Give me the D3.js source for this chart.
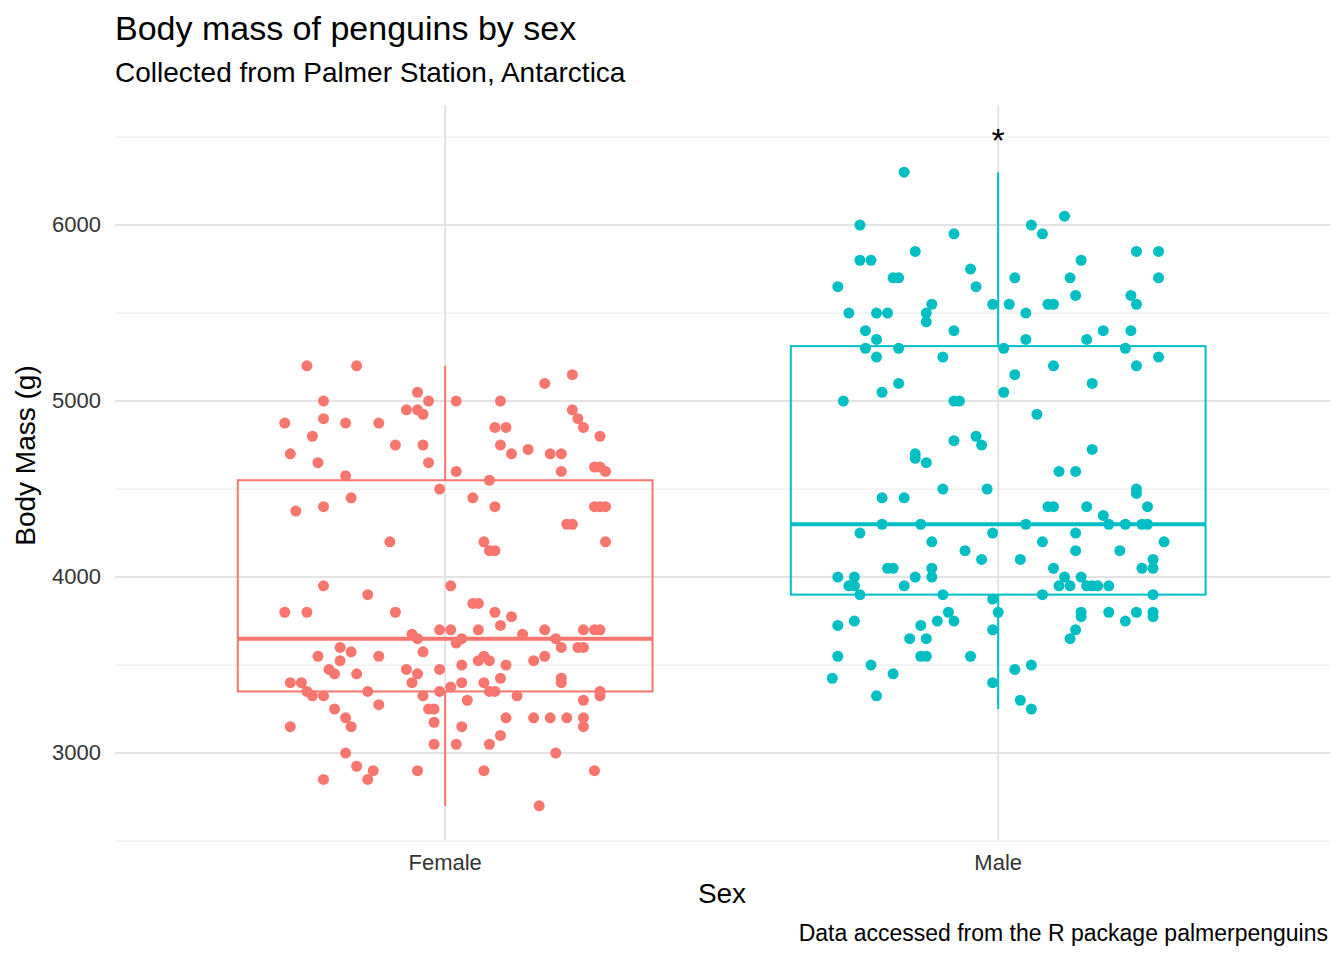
<!DOCTYPE html>
<html><head><meta charset="utf-8">
<script src="https://cdn.jsdelivr.net/npm/d3@7"></script>
<style>body{margin:0;background:#fff;font-family:"Liberation Sans",Arial,sans-serif}</style>
</head><body>
<svg id="chart" width="1344" height="960"></svg>
<script>
var sexes = ["Female", "Male"];
var colors = ["#F8766D", "#00BFC4"];
var yTicks = [3000, 4000, 5000, 6000];
var yMinor = [2500, 3500, 4500, 5500, 6500];
// box stats: [lowWhisker, q1, median, q3, highWhisker]
var boxStats = [[2700, 3350, 3650, 4550, 5200], [3250, 3900, 4300, 5312, 6300]];
// points: [jitter offset, body mass]
var femalePts = [[-0.25,5200],[-0.16,5200],[0.23,5150],[0.18,5100],[-0.29,4875],[-0.22,5000],[-0.12,4875],[-0.05,5050],[-0.03,5000],[-0.05,4950],[0.02,5000],[0.10,5000],[-0.24,4800],[-0.22,4900],[-0.18,4875],[-0.07,4950],[-0.04,4925],[-0.28,4700],[-0.23,4650],[-0.09,4750],[-0.04,4750],[0.10,4750],[0.09,4850],[0.11,4850],[0.12,4700],[0.15,4725],[0.19,4700],[0.21,4700],[0.23,4950],[0.24,4900],[0.25,4850],[0.28,4800],[0.27,4625],[0.28,4625],[0.29,4600],[0.21,4600],[-0.18,4575],[-0.03,4650],[0.02,4600],[-0.27,4375],[-0.22,4400],[-0.17,4450],[0.08,4550],[0.09,4400],[0.05,4450],[-0.01,4500],[0.07,4200],[0.08,4150],[0.09,4150],[-0.10,4200],[0.22,4300],[0.23,4300],[0.27,4400],[0.28,4400],[0.29,4400],[0.29,4200],[-0.22,3950],[-0.29,3800],[-0.25,3800],[-0.14,3900],[-0.09,3800],[-0.06,3675],[-0.05,3650],[-0.04,3575],[-0.01,3700],[0.01,3950],[0.01,3700],[0.03,3650],[0.02,3625],[0.05,3850],[0.06,3850],[0.06,3700],[0.09,3800],[0.10,3725],[0.12,3775],[0.14,3675],[0.18,3700],[0.20,3650],[0.21,3600],[0.24,3600],[0.25,3700],[0.27,3700],[0.28,3700],[0.25,3600],[0.16,3525],[0.11,3500],[0.06,3525],[0.07,3550],[0.08,3525],[0.03,3500],[-0.01,3475],[-0.05,3450],[-0.07,3475],[-0.12,3550],[-0.17,3575],[-0.19,3600],[-0.19,3525],[-0.21,3475],[-0.23,3550],[-0.26,3400],[-0.28,3400],[-0.25,3350],[-0.24,3325],[-0.22,3325],[-0.20,3450],[-0.16,3450],[-0.14,3350],[-0.06,3400],[-0.04,3325],[-0.01,3350],[0.01,3375],[-0.02,3250],[0.03,3400],[0.07,3400],[0.08,3350],[0.10,3425],[0.13,3325],[0.04,3300],[0.09,3350],[0.18,3550],[0.21,3425],[0.21,3400],[0.25,3300],[0.28,3350],[0.28,3325],[-0.20,3250],[-0.12,3275],[-0.03,3250],[-0.18,3200],[-0.02,3175],[0.03,3150],[0.11,3200],[0.16,3200],[0.19,3200],[0.22,3200],[0.25,3200],[0.25,3150],[-0.28,3150],[-0.17,3150],[0.10,3100],[0.08,3050],[0.02,3050],[-0.02,3050],[0.20,3000],[-0.18,3000],[-0.16,2925],[-0.13,2900],[-0.14,2850],[-0.22,2850],[-0.05,2900],[0.07,2900],[0.27,2900],[0.17,2700]];
var malePts = [[-0.17,6300],[-0.25,6000],[0.06,6000],[0.12,6050],[0.08,5950],[-0.08,5950],[-0.25,5800],[-0.23,5800],[-0.15,5850],[-0.19,5700],[-0.18,5700],[-0.05,5750],[-0.04,5650],[0.03,5700],[0.15,5800],[0.13,5700],[0.25,5850],[0.29,5850],[0.29,5700],[-0.29,5650],[-0.27,5500],[-0.22,5500],[-0.20,5500],[-0.13,5500],[-0.13,5450],[-0.12,5550],[-0.01,5550],[0.02,5550],[0.05,5500],[0.09,5550],[0.10,5550],[0.14,5600],[0.24,5600],[0.25,5550],[-0.24,5400],[-0.22,5350],[-0.24,5300],[-0.18,5300],[-0.08,5400],[0.01,5300],[0.05,5350],[0.16,5350],[0.19,5400],[0.24,5400],[0.23,5300],[-0.28,5000],[-0.21,5050],[-0.18,5100],[-0.22,5250],[-0.10,5250],[-0.07,5000],[-0.08,5000],[0.03,5150],[0.01,5050],[0.10,5200],[0.17,5100],[0.25,5200],[0.29,5250],[0.07,4925],[-0.15,4700],[-0.15,4675],[-0.13,4650],[-0.08,4775],[-0.03,4750],[-0.04,4800],[-0.02,4500],[0.11,4600],[0.14,4600],[0.17,4725],[0.25,4475],[0.27,4400],[0.25,4500],[-0.21,4450],[-0.17,4450],[-0.10,4500],[-0.25,4250],[-0.21,4300],[-0.14,4300],[-0.12,4200],[-0.06,4150],[-0.01,4250],[0.05,4300],[0.09,4400],[0.10,4400],[0.16,4400],[0.14,4250],[0.19,4350],[0.20,4300],[0.23,4300],[0.26,4300],[0.27,4300],[0.30,4200],[0.28,4050],[0.28,4100],[0.14,4150],[0.08,4200],[-0.29,4000],[-0.26,4000],[-0.26,3950],[-0.27,3950],[-0.25,3900],[-0.20,4050],[-0.19,4050],[-0.15,4000],[-0.17,3950],[-0.12,4000],[-0.12,4050],[-0.03,4100],[0.04,4100],[0.10,4050],[0.12,4000],[0.13,3950],[0.15,4000],[0.16,3950],[0.17,3950],[0.18,3950],[0.20,3950],[0.22,4150],[0.26,4050],[0.28,3900],[0.28,3800],[0.28,3775],[0.25,3800],[0.23,3750],[0.20,3800],[0.15,3800],[0.15,3775],[0.13,3650],[0.14,3700],[0.11,3950],[0.08,3900],[-0.01,3875],[-0.10,3900],[-0.09,3800],[-0.01,3700],[0.00,3800],[-0.11,3750],[-0.14,3725],[-0.16,3650],[-0.14,3550],[-0.13,3550],[-0.13,3650],[-0.08,3750],[-0.05,3550],[-0.29,3725],[-0.26,3750],[-0.29,3550],[-0.30,3425],[-0.23,3500],[-0.22,3325],[-0.19,3450],[-0.01,3400],[0.03,3475],[0.04,3300],[0.06,3500],[0.06,3250]];
var starMass = 6530;

var svg = d3.select("#chart");
var panel = {left: 115, right: 1330, top: 105, bottom: 840};
// category axis: 0 = Female, 1 = Male
var x = d3.scaleLinear().domain([-0.597, 1.6]).range([panel.left, panel.right]);
var y = d3.scaleLinear().domain([2506, 6682]).range([panel.bottom, panel.top]);

// grid
svg.append("g").selectAll("line").data(yMinor).enter().append("line")
    .attr("x1", panel.left).attr("x2", panel.right)
    .attr("y1", function(d) { return y(d); }).attr("y2", function(d) { return y(d); })
    .attr("stroke", "#eeeeee").attr("stroke-width", 1.2);
svg.append("g").selectAll("line").data(yTicks).enter().append("line")
    .attr("x1", panel.left).attr("x2", panel.right)
    .attr("y1", function(d) { return y(d); }).attr("y2", function(d) { return y(d); })
    .attr("stroke", "#e3e3e3").attr("stroke-width", 2);
svg.append("g").selectAll("line").data([0, 1]).enter().append("line")
    .attr("x1", function(d) { return x(d); }).attr("x2", function(d) { return x(d); })
    .attr("y1", panel.top).attr("y2", panel.bottom)
    .attr("stroke", "#e3e3e3").attr("stroke-width", 2);

// boxes
var hw = 0.375;
boxStats.forEach(function(s, i) {
    var g = svg.append("g").attr("stroke", colors[i]).attr("fill", "none");
    g.append("line").attr("x1", x(i)).attr("x2", x(i)).attr("y1", y(s[0])).attr("y2", y(s[1])).attr("stroke-width", 2);
    g.append("line").attr("x1", x(i)).attr("x2", x(i)).attr("y1", y(s[3])).attr("y2", y(s[4])).attr("stroke-width", 2);
    g.append("rect").attr("x", x(i - hw)).attr("width", x(i + hw) - x(i - hw))
        .attr("y", y(s[3])).attr("height", y(s[1]) - y(s[3])).attr("stroke-width", 2);
    g.append("line").attr("x1", x(i - hw)).attr("x2", x(i + hw)).attr("y1", y(s[2])).attr("y2", y(s[2])).attr("stroke-width", 4);
});

// points
[femalePts, malePts].forEach(function(pts, i) {
    svg.append("g").selectAll("circle").data(pts).enter().append("circle")
        .attr("cx", function(d) { return x(i + d[0]); })
        .attr("cy", function(d) { return y(d[1]); })
        .attr("r", 5.5).attr("fill", colors[i]);
});

svg.append("text").attr("x", x(1)).attr("y", y(starMass) + 20).attr("text-anchor", "middle")
    .attr("font-size", 34).text("*");

// axes text
svg.append("g").selectAll("text").data(yTicks).enter().append("text")
    .attr("x", 101).attr("y", function(d) { return y(d) + 7; }).attr("text-anchor", "end")
    .attr("font-size", 22).attr("fill", "#333333").text(function(d) { return d; });
svg.append("g").selectAll("text").data(sexes).enter().append("text")
    .attr("x", function(d, i) { return x(i); }).attr("y", 870).attr("text-anchor", "middle")
    .attr("font-size", 22).attr("fill", "#333333").text(function(d) { return d; });

svg.append("text").attr("x", 722).attr("y", 903).attr("text-anchor", "middle").attr("font-size", 28).text("Sex");
svg.append("text").attr("transform", "translate(35," + ((panel.top + panel.bottom) / 2 - 17) + ") rotate(-90)")
    .attr("text-anchor", "middle").attr("font-size", 28).text("Body Mass (g)");
svg.append("text").attr("x", 115).attr("y", 40).attr("font-size", 34).text("Body mass of penguins by sex");
svg.append("text").attr("x", 115).attr("y", 82).attr("font-size", 28).text("Collected from Palmer Station, Antarctica");
svg.append("text").attr("x", 1328).attr("y", 941).attr("text-anchor", "end").attr("font-size", 23)
    .text("Data accessed from the R package palmerpenguins");
</script>
</body></html>
